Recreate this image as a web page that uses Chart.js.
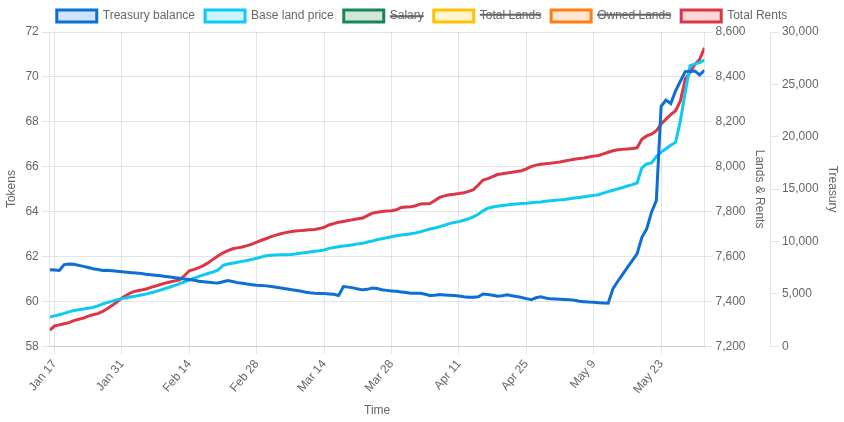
<!DOCTYPE html>
<html lang="en">

<head>
    <meta charset="UTF-8">
    <title>Treasury Report</title>
    <script src="https://cdn.jsdelivr.net/npm/chart.js"></script>
    <style>
      * {
        margin: 0;
        padding: 0;
      }
      .chartBox {
        width: 844px;
        height: 422px;
      }
    </style>
</head>

<body>
    <div class="chartBox">
      <canvas id="myChart"></canvas>
    </div>
    <script>
    // one value per day, starting Jan 16
    const firstDay = -1;

    const treasuryBalance = [
      7290, 7280, 7230, 7790, 7850, 7830, 7720, 7620, 7510, 7400,
      7330, 7230, 7260, 7210, 7150, 7100, 7060, 7020, 6980, 6950,
      6880, 6830, 6780, 6720, 6660, 6600, 6540, 6480, 6420, 6360,
      6290, 6210, 6160, 6110, 6060, 6040, 6150, 6260, 6170, 6070,
      6010, 5930, 5870, 5820, 5790, 5760, 5690, 5620, 5560, 5490,
      5410, 5350, 5270, 5170, 5100, 5060, 5040, 5020, 4990, 4950,
      4840, 5690, 5640, 5570, 5470, 5380, 5430, 5560, 5500, 5390,
      5330, 5280, 5240, 5180, 5120, 5060, 5050, 5050, 4960, 4850,
      4870, 4930, 4900, 4860, 4830, 4790, 4720, 4670, 4670, 4720,
      4990, 4930, 4860, 4780, 4820, 4900, 4820, 4740, 4650, 4540,
      4430, 4620, 4720, 4600, 4520, 4510, 4490, 4460, 4430, 4380,
      4300, 4250, 4210, 4190, 4150, 4120, 4100, 5500, 6200, 6860,
      7520, 8180, 8810, 10400, 11200, 12800, 13900, 22900, 23500, 23170,
      24380, 25300, 26220, 26250, 26280, 25900, 26350
    ];

    const baseLandPrice = [
      59.30, 59.35, 59.40, 59.46, 59.53, 59.59, 59.62, 59.66, 59.69, 59.73,
      59.80, 59.88, 59.95, 60.01, 60.07, 60.12, 60.16, 60.20, 60.24, 60.28,
      60.32, 60.38, 60.44, 60.50, 60.57, 60.64, 60.71, 60.79, 60.87, 60.95,
      61.03, 61.11, 61.18, 61.25, 61.31, 61.40, 61.60, 61.66, 61.70, 61.74,
      61.78, 61.82, 61.87, 61.92, 61.98, 62.03, 62.05, 62.06, 62.07, 62.08,
      62.09, 62.11, 62.14, 62.17, 62.20, 62.23, 62.25, 62.29, 62.36, 62.40,
      62.43, 62.46, 62.49, 62.52, 62.56, 62.59, 62.64, 62.69, 62.75, 62.79,
      62.83, 62.88, 62.92, 62.95, 62.98, 63.01, 63.05, 63.10, 63.16, 63.22,
      63.27, 63.33, 63.39, 63.46, 63.51, 63.55, 63.61, 63.68, 63.76, 63.88,
      64.03, 64.15, 64.20, 64.24, 64.27, 64.29, 64.32, 64.34, 64.36, 64.37,
      64.39, 64.41, 64.43, 64.46, 64.48, 64.50, 64.52, 64.54, 64.57, 64.60,
      64.63, 64.66, 64.69, 64.72, 64.75, 64.82, 64.89, 64.95, 65.01, 65.07,
      65.14, 65.20, 65.27, 65.95, 66.12, 66.17, 66.45, 66.65, 66.80, 66.95,
      67.08, 68.04, 69.30, 70.50, 70.57, 70.64, 70.75
    ];

    const totalRents = [
      7272, 7290, 7295, 7300, 7305, 7314, 7320, 7325, 7334, 7340,
      7345, 7355, 7368, 7382, 7398, 7415, 7428, 7440, 7446, 7450,
      7455, 7462, 7468, 7475, 7481, 7486, 7491, 7496, 7515, 7536,
      7542, 7550, 7560, 7573, 7588, 7603, 7616, 7626, 7634, 7638,
      7642, 7648, 7655, 7664, 7672, 7680, 7688, 7695, 7701, 7706,
      7710, 7713, 7715, 7717, 7719, 7720, 7724, 7730, 7740, 7746,
      7752, 7756, 7760, 7764, 7768, 7771, 7782, 7793, 7797, 7800,
      7802, 7804, 7808, 7818, 7820, 7821, 7826, 7834, 7835, 7836,
      7849, 7863, 7870, 7875, 7877, 7880, 7884, 7890, 7897, 7918,
      7940, 7947, 7956, 7965, 7968, 7972, 7975, 7978, 7982, 7990,
      8000, 8007, 8011, 8013, 8015, 8018, 8021, 8025, 8029, 8033,
      8036, 8039, 8043, 8047, 8050, 8057, 8064, 8071, 8075, 8077,
      8079, 8081, 8084, 8122, 8137, 8145, 8160, 8190, 8212, 8232,
      8249, 8293, 8390, 8420, 8455, 8478, 8530
    ];

    // hidden in the legend
    const salary = [];
    const totalLands = [];
    const ownedLands = [];

    // x ticks: day offset from Jan 17 and their labels
    const tickDays = [0, 14, 28, 42, 56, 70, 84, 98, 112, 126];
    const tickLabels = ['Jan 17', 'Jan 31', 'Feb 14', 'Feb 28', 'Mar 14', 'Mar 28', 'Apr 11', 'Apr 25', 'May 9', 'May 23'];

    const days = treasuryBalance.map((v, i) => firstDay + i);
    const toPoints = arr => arr.map((v, i) => ({ x: days[i], y: v }));

    function line(label, color, fill, values, axis, hidden) {
      return {
        label: label,
        data: toPoints(values),
        borderColor: color,
        backgroundColor: fill,
        borderWidth: 3,
        pointRadius: 0,
        tension: 0,
        yAxisID: axis,
        hidden: hidden
      };
    }

    Chart.defaults.font.family = "'Liberation Sans', Arial, sans-serif";
    Chart.defaults.color = '#666';

    // setup
    const data = {
      datasets: [
        line('Treasury balance', 'rgb(13, 110, 212)', 'rgba(13, 110, 253, 0.2)', treasuryBalance, 'yTreasury', false),
        line('Base land price', '#0dcaf0', 'rgba(13, 202, 240, 0.2)', baseLandPrice, 'yTokens', false),
        line('Salary', '#198754', 'rgba(25, 135, 84, 0.2)', salary, 'yTokens', true),
        line('Total Lands', '#ffc107', 'rgba(255, 193, 7, 0.2)', totalLands, 'yLands', true),
        line('Owned Lands', '#fd7e14', 'rgba(253, 126, 20, 0.2)', ownedLands, 'yLands', true),
        line('Total Rents', '#dc3545', 'rgba(220, 53, 69, 0.2)', totalRents, 'yLands', false)
      ]
    };

    // config
    const config = {
      type: 'line',
      data,
      options: {
        responsive: true,
        maintainAspectRatio: false,
        animation: false,
        plugins: {
          legend: {
            position: 'top'
          }
        },
        scales: {
          x: {
            type: 'linear',
            min: days[0],
            max: days[days.length - 1],
            afterBuildTicks(scale) {
              scale.ticks = tickDays.map(d => ({ value: d }));
            },
            ticks: {
              minRotation: 50,
              maxRotation: 50,
              callback(value) {
                const i = tickDays.indexOf(value);
                return i >= 0 ? tickLabels[i] : '';
              }
            },
            title: {
              display: true,
              text: 'Time'
            }
          },
          yTokens: {
            position: 'left',
            min: 58,
            max: 72,
            ticks: { stepSize: 2 },
            title: { display: true, text: 'Tokens' }
          },
          yLands: {
            position: 'right',
            min: 7200,
            max: 8600,
            ticks: { stepSize: 200 },
            grid: { drawOnChartArea: false },
            title: { display: true, text: 'Lands & Rents' }
          },
          yTreasury: {
            position: 'right',
            min: 0,
            max: 30000,
            ticks: { stepSize: 5000 },
            grid: { drawOnChartArea: false },
            title: { display: true, text: 'Treasury' }
          }
        }
      }
    };

    // render init block
    const myChart = new Chart(
      document.getElementById('myChart'),
      config
    );
    </script>
</body>

</html>
